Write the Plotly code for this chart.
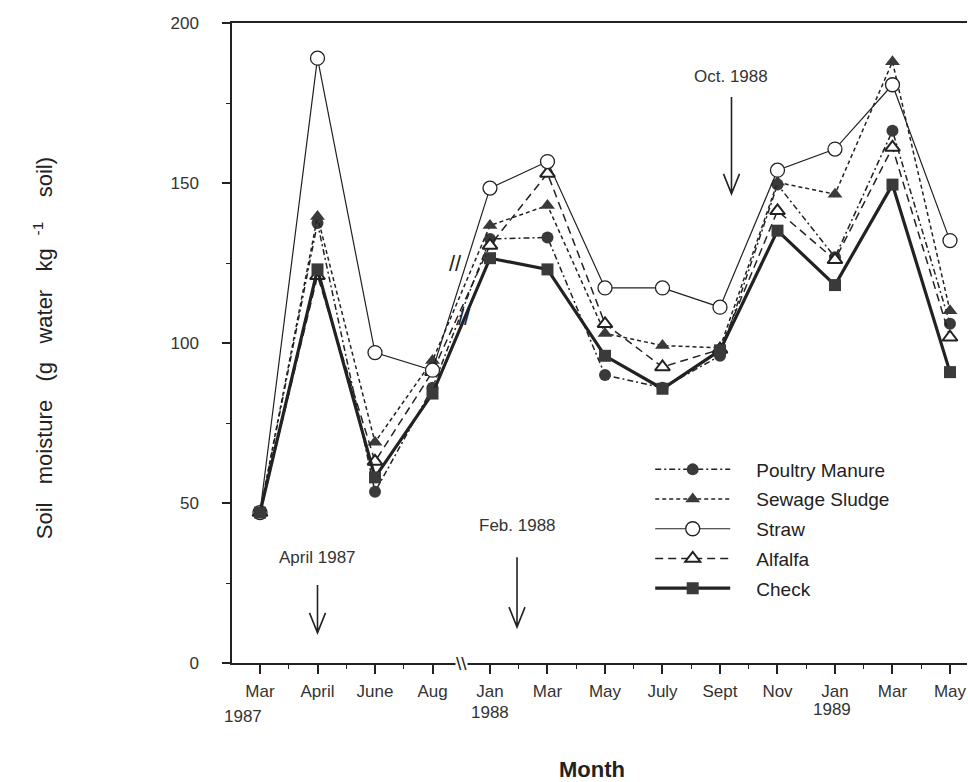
import plotly.graph_objects as go

# ---- data ----
months = ["Mar", "April", "June", "Aug", "Jan", "Mar", "May", "July", "Sept", "Nov", "Jan", "Mar", "May"]
year_labels = ["1987", "1988", "1989"]

poultry = [47, 137.5, 53.5, 86, 132.5, 133, 90, 86, 96, 149.5, 126.8, 166.3, 106]
sewage = [47, 139.5, 69, 94.5, 136.7, 143, 103, 99.2, 98.5, 150.2, 146.5, 187.9, 110.1]
straw = [47, 189, 97, 91.5, 148.4, 156.7, 117.2, 117.2, 111.2, 154, 160.6, 180.7, 132]
alfalfa = [47, 121, 63, 91, 130.5, 153, 106, 92.5, 98, 141.3, 126, 161.1, 101.8]
check = [47, 123, 58, 84.2, 126.5, 123, 96, 85.7, 97.7, 135.1, 118.1, 149.5, 90.9]

events = ["April 1987", "Feb. 1988", "Oct. 1988"]
event_x = [1, 4.47, 8.2]
event_tip = [9.4, 11.2, 146.6]
event_len = [48, 70, 97]

x = list(range(len(months)))
FONT = "Liberation Sans, Arial, sans-serif"
INK = "#222222"
FILL = "#3a3a3a"
PAD = "\u00a0\u00a0\u00a0\u00a0"

fig = go.Figure()

fig.add_trace(go.Scatter(
    x=x, y=poultry, name=PAD + "Poultry Manure", mode="lines+markers", legendrank=1, legendgroup="a",
    line=dict(color=INK, width=1.5, dash="6px,3px,2px,3px"),
    marker=dict(symbol="circle", size=12, color=FILL)))
fig.add_trace(go.Scatter(
    x=x, y=sewage, name=PAD + "Sewage Sludge", mode="lines+markers", legendrank=2, legendgroup="b",
    line=dict(color=INK, width=1.5, dash="4px,3px"),
    marker=dict(symbol="triangle-up", size=13, color=FILL)))
fig.add_trace(go.Scatter(
    x=x, y=alfalfa, name=PAD + "Alfalfa", mode="lines+markers", legendrank=4, legendgroup="d",
    line=dict(color=INK, width=1.5, dash="8px,5px"),
    marker=dict(symbol="triangle-up", size=13, color="white", line=dict(color=INK, width=2))))
fig.add_trace(go.Scatter(
    x=x, y=straw, name=PAD + "Straw", mode="lines+markers", legendrank=3, legendgroup="c",
    line=dict(color=INK, width=1.2),
    marker=dict(symbol="circle", size=14, color="white", line=dict(color=INK, width=1.3))))
fig.add_trace(go.Scatter(
    x=x, y=check, name=PAD + "Check", mode="lines+markers", legendrank=5, legendgroup="e",
    line=dict(color=INK, width=3.2),
    marker=dict(symbol="square", size=12, color=FILL)))

minor_vals = [i + 0.5 for i in x[:-1] if i != 3]

fig.update_xaxes(
    range=[-0.487, 12.296], tickmode="array", tickvals=x, ticktext=months,
    showline=True, linecolor=INK, linewidth=1.5, mirror=True,
    ticks="outside", ticklen=9, tickwidth=1.5, tickcolor=INK,
    minor=dict(tickmode="array", tickvals=minor_vals, ticks="outside", ticklen=4, tickwidth=1.3, tickcolor=INK),
    showgrid=False, zeroline=False, ticklabelstandoff=3,
    tickfont=dict(family=FONT, size=17, color="#333"))
fig.update_yaxes(
    range=[0, 200], tickvals=[0, 50, 100, 150, 200],
    showline=True, linecolor=INK, linewidth=1.5,
    ticks="outside", ticklen=8, tickwidth=1.5, tickcolor=INK,
    minor=dict(dtick=25, ticks="outside", ticklen=4, tickwidth=1.3, tickcolor=INK),
    showgrid=False, zeroline=False, ticklabelstandoff=20,
    tickfont=dict(family=FONT, size=17, color="#333"))

ann = []
# years under the month labels
year_pos = [(-0.3, -0.084), (4.0, -0.077), (9.95, -0.0725)]
for lab, (xx, yy) in zip(year_labels, year_pos):
    ann.append(dict(text=lab, x=xx, y=yy, xref="x", yref="paper", yanchor="middle", showarrow=False,
                    font=dict(family=FONT, size=17, color="#333")))
# event labels + arrows
label_y = [33.0, 43.0, 183.2]
shapes = []
for lab, ex, tip, ln, ly in zip(events, event_x, event_tip, event_len, label_y):
    ann.append(dict(text=lab, x=ex, y=ly, xref="x", yref="y", showarrow=False,
                    font=dict(family=FONT, size=17, color="#333")))
    shapes.append(dict(type="path", xref="x", yref="y", xsizemode="pixel", ysizemode="pixel",
                       xanchor=ex, yanchor=tip,
                       path=f"M0,0 L0,{ln} M-8,20 L0,0 L8,20",
                       line=dict(color=INK, width=1.6)))
# axis break and line break marks
ann.append(dict(text="\\\\", x=3.5, y=0, xref="x", yref="y", showarrow=False, bgcolor="white",
                font=dict(family=FONT, size=19, color=INK), borderpad=0))
ann.append(dict(text="//", x=3.4, y=125, xref="x", yref="y", showarrow=False,
                font=dict(family=FONT, size=22, color=INK)))
ann.append(dict(text="//", x=3.55, y=108, xref="x", yref="y", showarrow=False,
                font=dict(family=FONT, size=22, color=INK)))
# axis titles
ann.append(dict(text="Month", x=0.49, y=-0.167, xref="paper", yref="paper", yanchor="middle", showarrow=False,
                font=dict(family=FONT, size=22, color=INK, weight="bold")))
ann.append(dict(text="Soil\u00a0\u00a0 moisture\u00a0\u00a0 (g\u00a0\u00a0 water\u00a0\u00a0 kg<sup>\u00a0\u00a0 -1</sup>\u00a0\u00a0\u00a0 soil)",
                x=-0.257, y=0.492, xref="paper", yref="paper", textangle=-90, showarrow=False,
                xanchor="center", yanchor="middle",
                font=dict(family=FONT, size=22, color=INK)))

fig.update_layout(
    width=968, height=782, margin=dict(l=232, r=1, t=23, b=119),
    plot_bgcolor="white", paper_bgcolor="white",
    annotations=ann, shapes=shapes,
    legend=dict(x=0.569, y=0.332, xanchor="left", yanchor="top", bgcolor="rgba(0,0,0,0)",
                itemwidth=75, tracegroupgap=2, traceorder="grouped",
                font=dict(family=FONT, size=19, color=INK)),
)

fig.write_html("out.html", config={"displayModeBar": False},
               post_script="document.body.style.margin='0';document.body.style.overflow='hidden';")
